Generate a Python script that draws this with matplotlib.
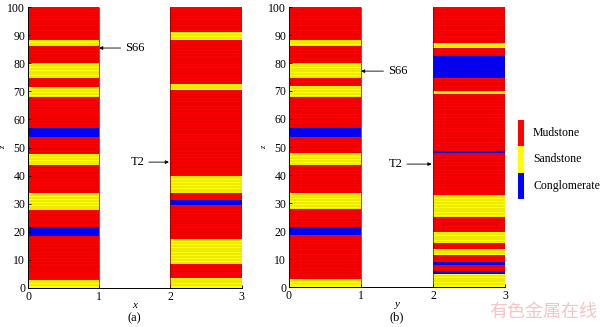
import numpy as np
import matplotlib
matplotlib.use('Agg')
import matplotlib.pyplot as plt

plt.rcParams['font.family'] = ['Liberation Serif', 'DejaVu Serif']

# lithology codes: M = mudstone, S = sandstone, C = conglomerate
colors = {'M': '#ff0000', 'S': '#ffff00', 'C': '#0000ff'}
legend_names = ['Mudstone', 'Sandstone', 'Conglomerate']
legend_codes = ['M', 'S', 'C']

# well S66 (same in both panels), layer boundaries from z = 0 upward
s66_z = [0, 2.9, 18.5, 21.6, 27.8, 33.7, 43.6, 47.7, 53.7, 56.9, 67.9,
         71.7, 74.8, 80.0, 86.0, 88.1, 100]
s66_lith = ['S', 'M', 'C', 'M', 'S', 'M', 'S', 'M', 'C', 'M', 'S', 'M',
            'S', 'M', 'S', 'M']

# well T2, panel (a)
t2a_z = [0, 3.6, 8.6, 17.5, 29.7, 31.4, 33.7, 39.7, 70.5, 72.7, 88.1,
         91.1, 100]
t2a_lith = ['S', 'M', 'S', 'M', 'C', 'M', 'S', 'M', 'S', 'M', 'S', 'M']

# well T2, panel (b)
t2b_z = [0, 4.6, 5.6, 7.7, 8.8, 11.5, 13.5, 15.7, 19.8, 24.9, 32.9, 47.7,
         48.7, 69.1, 70.1, 74.8, 82.4, 85.2, 87.2, 100]
t2b_lith = ['S', 'C', 'M', 'C', 'M', 'S', 'M', 'S', 'M', 'S', 'M', 'C',
            'M', 'S', 'M', 'C', 'M', 'S', 'M']

xticks = [0, 1, 2, 3]
zticks = list(range(0, 101, 10))


def column(ax, x0, z, lith):
    z = np.asarray(z, dtype=float)
    ax.bar(x0 + 0.5, np.diff(z), bottom=z[:-1], width=1.0,
           color=[colors[c] for c in lith], edgecolor='none', zorder=1)
    # thin mesh lines
    ax.hlines(np.arange(1, 100), x0, x0 + 1, colors='#400000', lw=0.35,
              alpha=0.35, zorder=2)
    ax.vlines([x0, x0 + 1], 0, 100, colors='#800000', lw=0.5, zorder=2)


fig = plt.figure(figsize=(6.0, 3.27), dpi=100)
W, H = 600.0, 327.0

panels = [
    dict(rect=[28 / W, 39 / H, 213.5 / W, 281 / H], t2=(t2a_z, t2a_lith),
         xl='x', tag='(a)', s66=(1.0, 85.4, 1.36), t2a=(1.98, 44.8, 1.64)),
    dict(rect=[289 / W, 40 / H, 216 / W, 280 / H], t2=(t2b_z, t2b_lith),
         xl='y', tag='(b)', s66=(1.0, 77.1, 1.37), t2a=(1.98, 43.9, 1.58)),
]

for p in panels:
    ax = fig.add_axes(p['rect'])
    column(ax, 0, s66_z, s66_lith)
    column(ax, 2, *p['t2'])
    ax.set_xlim(0, 3)
    ax.set_ylim(0, 100)
    ax.set_xticks(xticks)
    ax.set_yticks(zticks)
    ax.tick_params(direction='in', length=2, width=0.6, labelsize=8.5, pad=2)
    for s in ['top', 'right']:
        ax.spines[s].set_visible(False)
    for s in ['left', 'bottom']:
        ax.spines[s].set_linewidth(0.7)
    ax.set_xlabel(p['xl'], fontstyle='italic', fontsize=8, labelpad=-1)
    ax.set_ylabel('z', fontstyle='italic', fontsize=6, labelpad=0)
    ax.text(1.5, -10.8, p['tag'], ha='center', va='center', fontsize=9,
            transform=ax.transData, clip_on=False)

    arrow = dict(arrowstyle='-|>', lw=0.6, color='black', shrinkA=1,
                 shrinkB=0, mutation_scale=5)
    xs, zs, xt = p['s66']
    ax.annotate('S66', xy=(xs, zs), xytext=(xt, zs), ha='left', va='center',
                fontsize=9, arrowprops=arrow)
    xs, zs, xt = p['t2a']
    ax.annotate('T2', xy=(xs, zs), xytext=(xt, zs), ha='right', va='center',
                fontsize=9, arrowprops=arrow)

# legend bar
lax = fig.add_axes([518 / W, (H - 199) / H, 6 / W, 79 / H])
lax.bar(np.zeros(3), np.ones(3), bottom=[2, 1, 0], width=1.0,
        color=[colors[c] for c in legend_codes], edgecolor='none')
lax.set_xlim(-0.5, 0.5)
lax.set_ylim(0, 3)
lax.axis('off')
for i, name in enumerate(legend_names):
    fig.text(533 / W, (H - 133 - i * 26.5) / H, name, ha='left', va='center',
             fontsize=8.5)

# watermark
fig.text(597 / W, 15 / H, '有色金属在线', ha='right', va='center', fontsize=13,
         color='#f6c4c4', family=['Noto Sans CJK SC', 'DejaVu Sans'])

fig.savefig('out.png', dpi=100)
